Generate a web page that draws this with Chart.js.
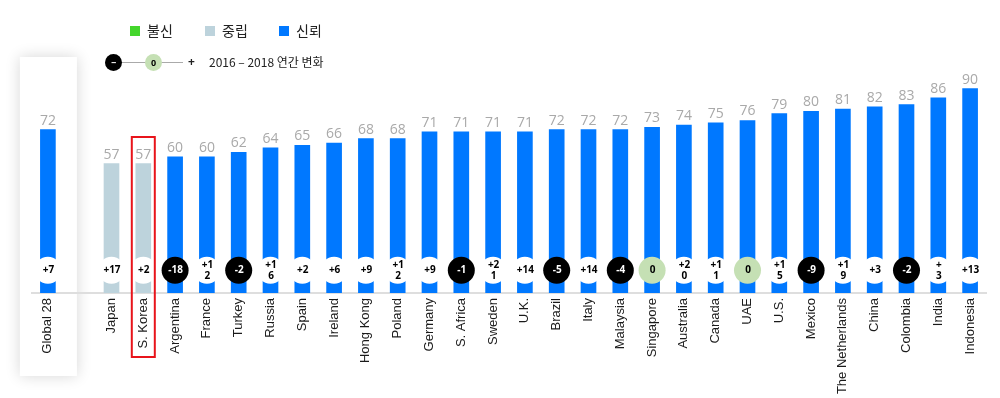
<!DOCTYPE html>
<html>
<head>
<meta charset="utf-8">
<script src="https://cdn.jsdelivr.net/npm/chart.js@4/dist/chart.umd.min.js"></script>
<style>
  html, body { margin: 0; padding: 0; background: #fff; }
  #wrap { position: relative; width: 1000px; height: 398px; }
  #legend { position: absolute; left: 0; top: 0; width: 1000px; font-family: "Noto Sans CJK KR", "Noto Sans", sans-serif; color: #222; white-space: nowrap; }
  .sw { position: absolute; width: 10px; height: 10px; top: 26px; }
  .lt { position: absolute; top: 20px; font-size: 14px; line-height: 20px; }
  .dot { position: absolute; border-radius: 50%; width: 17px; height: 17px; font: bold 9px "Open Sans", sans-serif; text-align: center; line-height: 17px; }
</style>
</head>
<body>
<div id="wrap">
  <canvas id="trustChart" width="1000" height="398"></canvas>
  <div id="legend">
    <div class="sw" style="left:130px;background:#44d62c"></div><div class="lt" style="left:147px">불신</div>
    <div class="sw" style="left:205px;background:#bdd3dc"></div><div class="lt" style="left:222px">중립</div>
    <div class="sw" style="left:279px;background:#0078ff"></div><div class="lt" style="left:296px">신뢰</div>
    <div style="position:absolute;left:113px;top:62px;width:70px;height:1px;background:#aaa"></div>
    <div class="dot" style="left:105px;top:54px;background:#000;color:#fff">&minus;</div>
    <div class="dot" style="left:145px;top:54px;background:#c5e0b4;color:#000">0</div>
    <div style="position:absolute;left:188px;top:53px;font:bold 12px 'Open Sans',sans-serif">+</div>
    <div style="position:absolute;left:209px;top:53px;font-size:12px;line-height:17px">2016 – 2018 연간 변화</div>
  </div>
</div>
<script>
const countries = ['Global 28', '', 'Japan', 'S. Korea', 'Argentina', 'France', 'Turkey', 'Russia', 'Spain', 'Ireland',
    'Hong Kong', 'Poland', 'Germany', 'S. Africa', 'Sweden', 'U.K.', 'Brazil', 'Italy', 'Malaysia', 'Singapore',
    'Australia', 'Canada', 'UAE', 'U.S.', 'Mexico', 'The Netherlands', 'China', 'Colombia', 'India', 'Indonesia'];
const trust = [72, null, 57, 57, 60, 60, 62, 64, 65, 66,
    68, 68, 71, 71, 71, 71, 72, 72, 72, 73,
    74, 75, 76, 79, 80, 81, 82, 83, 86, 90];
const change = [7, null, 17, 2, -18, 12, -2, 16, 2, 6,
    9, 12, 9, -1, 21, 14, -5, 14, -4, 0,
    20, 11, 0, 15, -9, 19, 3, -2, 3, 13];
// change labels as printed (some wrap inside the circle)
const changeLabels = ['+7', '', '+17', '+2', '-18', '+1\n2', '-2', '+1\n6', '+2', '+6',
    '+9', '+1\n2', '+9', '-1', '+2\n1', '+14', '-5', '+14', '-4', '0',
    '+2\n0', '+1\n1', '0', '+1\n5', '-9', '+1\n9', '+3', '-2', '+\n3', '+13'];
const highlight = 'S. Korea';

const BLUE = '#0078ff', NEUTRAL = '#bdd3dc', DISTRUST = '#44d62c';
const CIRCLE_LEVEL = 10;

function barColor(v) {
    if (v == null) return BLUE;
    if (v < 50) return DISTRUST;
    if (v < 60) return NEUTRAL;
    return BLUE;
}
function dotColor(c) {
    if (c == null) return 'rgba(0,0,0,0)';
    if (c < 0) return '#000';
    if (c === 0) return '#c5e0b4';
    return '#fff';
}

const decor = {
    id: 'decor',
    beforeDraw(chart) {
        // white card behind Global 28
        const ctx = chart.ctx;
        const x = chart.scales.x.getPixelForValue(0);
        ctx.save();
        ctx.shadowColor = 'rgba(0,0,0,0.16)';
        ctx.shadowBlur = 14;
        ctx.fillStyle = '#fff';
        ctx.fillRect(x - 28, 57, 57, 319);
        ctx.restore();
    },
    afterDatasetsDraw(chart) {
        const ctx = chart.ctx;
        const bars = chart.getDatasetMeta(1).data;
        const dots = chart.getDatasetMeta(0).data;
        ctx.save();
        ctx.textAlign = 'center';
        // values above bars
        ctx.font = '14px "Open Sans", sans-serif';
        ctx.fillStyle = '#a9a9a9';
        ctx.textBaseline = 'bottom';
        bars.forEach((b, i) => {
            if (trust[i] == null) return;
            ctx.fillText(trust[i], b.x, b.y - 2);
        });
        // change labels in circles
        ctx.font = 'bold 10px "Open Sans", sans-serif';
        ctx.textBaseline = 'middle';
        dots.forEach((p, i) => {
            if (change[i] == null) return;
            ctx.fillStyle = change[i] < 0 ? '#fff' : '#000';
            const lines = changeLabels[i].split('\n');
            const off = (lines.length - 1) * 5.5;
            lines.forEach((t, k) => ctx.fillText(t, p.x + 0.5, p.y - off + k * 11));
        });
        ctx.restore();
    },
    afterDraw(chart) {
        const ctx = chart.ctx;
        const i = countries.indexOf(highlight);
        const x = chart.scales.x.getPixelForValue(i);
        ctx.save();
        ctx.strokeStyle = '#e8141b';
        ctx.lineWidth = 2;
        ctx.strokeRect(x - 11.5, 137, 23, 220);
        ctx.restore();
    }
};

new Chart(document.getElementById('trustChart'), {
    data: {
        labels: countries,
        datasets: [
            {
                type: 'line',
                data: change.map(c => c == null ? null : CIRCLE_LEVEL),
                showLine: false,
                pointRadius: 13.5,
                pointBorderWidth: 0,
                pointBackgroundColor: change.map(dotColor),
                order: 0
            },
            {
                type: 'bar',
                data: trust,
                backgroundColor: trust.map(barColor),
                barThickness: 15,
                order: 1
            }
        ]
    },
    options: {
        responsive: false,
        animation: false,
        events: [],
        layout: { padding: { left: 32, right: 14, top: 66, bottom: 0 } },
        plugins: { legend: { display: false }, tooltip: { enabled: false } },
        scales: {
            x: {
                grid: { display: false, drawTicks: false },
                border: { display: true, color: '#dedede', width: 2 },
                ticks: {
                    autoSkip: false,
                    minRotation: 90,
                    maxRotation: 90,
                    padding: 5,
                    color: '#1a1a1a',
                    font: { family: '"Liberation Sans", Arial, sans-serif', size: 13 }
                },
                afterFit(s) { s.height = 105; }
            },
            y: { display: false, min: 0, max: 100 }
        }
    },
    plugins: [decor]
});
</script>
</body>
</html>
